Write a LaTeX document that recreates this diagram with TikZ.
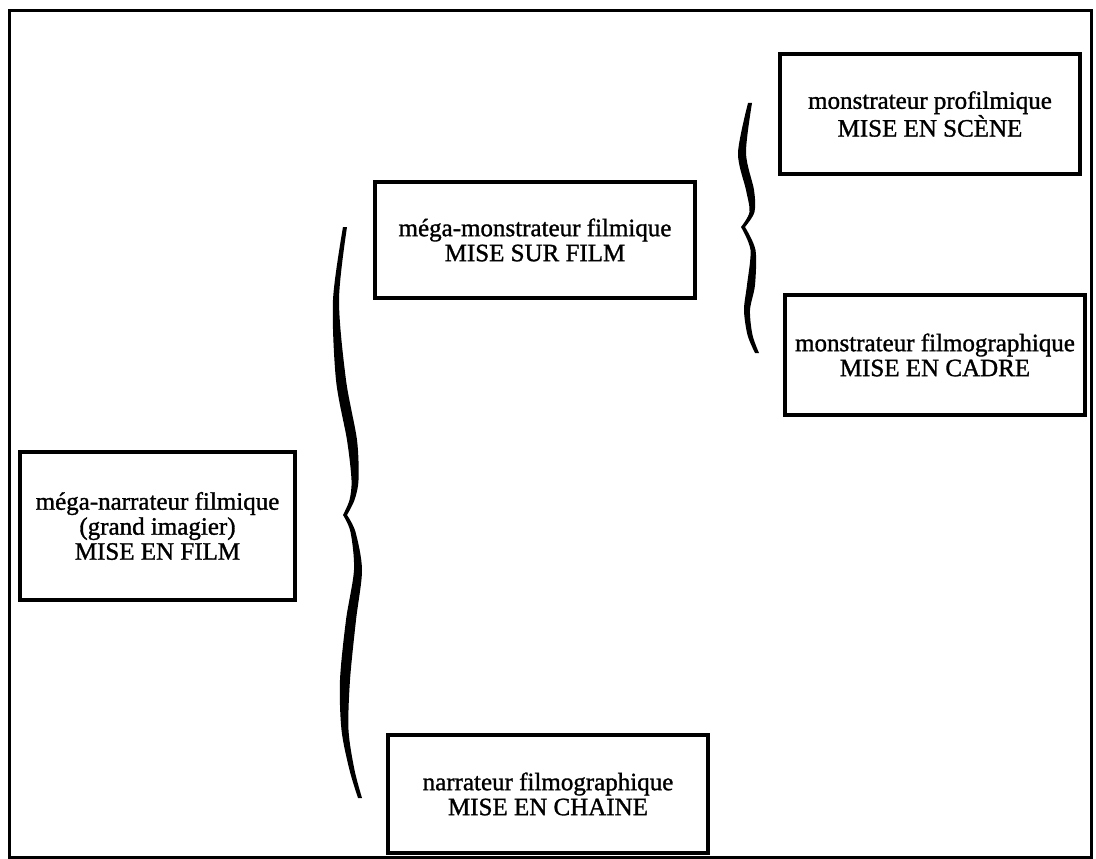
\documentclass[tikz,border=0pt]{standalone}
\usepackage{fontspec}
\setmainfont{Liberation Serif}
\newfontfamily\scanfont[FakeBold=1.2]{Liberation Serif}
\begin{document}
\begin{tikzpicture}[x=1pt,y=-1pt,
  box/.style={draw, line width=4pt, align=center, inner sep=0pt,
    font=\scanfont\fontsize{25}{25}\selectfont},
  frame/.style={draw, line width=3pt},
  bracefill/.style={fill=black}]
\useasboundingbox (0,0) rectangle (1096,859);
\draw[frame] (9,11) rectangle (1091,857);

\node[box, minimum width=275pt, minimum height=148pt] (film) at (157.5,526)
  {méga-narrateur filmique\\(grand imagier)\\MISE EN FILM};
\node[box, minimum width=320pt, minimum height=116pt] (surfilm) at (535,240)
  {méga-monstrateur filmique\\MISE SUR FILM};
\node[box, minimum width=300pt, minimum height=119pt] (scene) at (930,114)
  {monstrateur profilmique\\MISE EN SCÈNE};
\node[box, minimum width=300pt, minimum height=120pt] (cadre) at (935,355)
  {monstrateur filmographique\\MISE EN CADRE};
\node[box, minimum width=320pt, minimum height=118pt] (chaine) at (548,794)
  {narrateur filmographique\\MISE EN CHAINE};

% big brace
\fill[bracefill] plot[smooth] coordinates {(343,227) (333,300) (336,380) (347,440) (351.5,480) (349.5,500) (343,515)}
  -- plot[smooth] coordinates {(347,515) (354.5,500) (358.5,480) (357,440) (346,380) (339,300) (347,227)} -- cycle;
\fill[bracefill] plot[smooth] coordinates {(343,515) (350.5,532) (354,570) (346,620) (340,680) (341.5,730) (349.5,770) (358,798)}
  -- plot[smooth] coordinates {(362,798) (354.5,770) (348.5,730) (350,680) (356,620) (362,570) (355.5,532) (347,515)} -- cycle;

% small brace
\fill[bracefill] plot[smooth] coordinates {(748,103) (738,153) (746,190) (749.5,212) (741,227)}
  -- plot[smooth] coordinates {(745,227) (754.5,212) (754,190) (746,153) (752,103)} -- cycle;
\fill[bracefill] plot[smooth] coordinates {(741,227) (750.5,250) (747,285) (744,310) (747.5,335) (755,353)}
  -- plot[smooth] coordinates {(759,353) (752.5,335) (750,310) (755,285) (755.5,250) (745,227)} -- cycle;
\end{tikzpicture}
\end{document}
